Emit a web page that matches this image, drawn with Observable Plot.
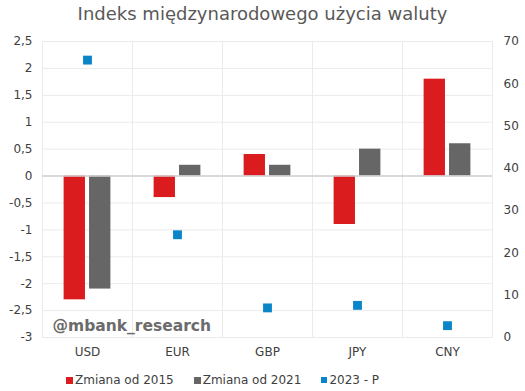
<!DOCTYPE html>
<html>
<head>
<meta charset="utf-8">
<script src="https://cdn.jsdelivr.net/npm/d3@7"></script>
<script src="https://cdn.jsdelivr.net/npm/@observablehq/plot@0.6"></script>
<style>
  body { margin: 0; background: #fff; font-family: "DejaVu Sans", Verdana, sans-serif; }
  #wrap { position: relative; width: 525px; height: 391px; }
  #title { height: 30px; line-height: 28px; text-align: center; font-size: 18px; color: #595959; }
  #legend { position: absolute; left: 66px; top: 373px; display: flex; font-size: 12px; color: #404040; white-space: nowrap; }
  .item { display: flex; align-items: center; margin-right: 20px; }
  .sw { display: inline-block; width: 7px; height: 7px; margin-right: 2px; }
</style>
</head>
<body>
<div id="wrap">
  <div id="title">Indeks międzynarodowego użycia waluty</div>
  <div id="chart"></div>
  <div id="legend"></div>
</div>
<script>
const currencies = ["USD", "EUR", "GBP", "JPY", "CNY"];
const seriesNames = ["Zmiana od 2015", "Zmiana od 2021"];
const change2015 = [-2.3, -0.4, 0.4, -0.9, 1.8];
const change2021 = [-2.1, 0.2, 0.2, 0.5, 0.6];
const share2023 = [65.6, 24.3, 7.0, 7.6, 2.8];
const dotName = "2023 - P";
const leftTicks = [-3, -2.5, -2, -1.5, -1, -0.5, 0, 0.5, 1, 1.5, 2, 2.5];
const rightTicks = [0, 10, 20, 30, 40, 50, 60, 70];

const red = "#DA1C1F", gray = "#666666", blue = "#0A86C8";

const leftMin = -3, leftMax = 2.5, rightMin = 0, rightMax = 70;
const toLeft = v => leftMin + (v - rightMin) * (leftMax - leftMin) / (rightMax - rightMin);
const fromLeft = d => rightMin + (d - leftMin) * (rightMax - rightMin) / (leftMax - leftMin);

const bars = [];
currencies.forEach((c, i) => {
  bars.push({currency: c, series: seriesNames[0], value: change2015[i]});
  bars.push({currency: c, series: seriesNames[1], value: change2021[i]});
});
const dots = currencies.map((c, i) => ({currency: c, value: share2023[i]}));

const chart = Plot.plot({
  width: 525, height: 335,
  marginTop: 11, marginBottom: 28, marginLeft: 40, marginRight: 31,
  style: {fontFamily: "DejaVu Sans, Verdana, sans-serif", fontSize: "12px", color: "#404040", background: "#fff"},
  fx: {domain: currencies, padding: 0, label: null},
  x: {domain: seriesNames, paddingInner: 0.16, paddingOuter: 0.85, round: false, axis: null},
  y: {domain: [leftMin, leftMax], label: null},
  color: {domain: seriesNames, range: [red, gray]},
  marks: [
    Plot.gridY({ticks: leftTicks, stroke: "#ebebeb", strokeOpacity: 1}),
    Plot.frame({stroke: "#ebebeb"}),
    Plot.barY(bars, {fx: "currency", x: "series", y: "value", fill: "series", inset: 0}),
    Plot.ruleY([0], {stroke: "#d0d0d0", strokeWidth: 1.5}),
    Plot.dot(dots, {fx: "currency", y: d => toLeft(d.value), symbol: "square", fill: blue, r: 5}),
    Plot.text(["@mbank_research"], {fx: () => "USD", frameAnchor: "bottom-left", dx: 10, dy: -7, lineAnchor: "bottom", fontWeight: "bold", fontSize: 15.5, fill: "#6b6b6b"}),
    Plot.axisY({ticks: leftTicks, tickFormat: d => String(d).replace(".", ","), tickSize: 0, tickPadding: 10, label: null}),
    Plot.axisY({anchor: "right", ticks: rightTicks.map(toLeft), tickFormat: d => String(Math.round(fromLeft(d))), tickSize: 0, tickPadding: 11, label: null}),
    Plot.axisFx({anchor: "bottom", tickSize: 0, tickPadding: 10, label: null})
  ]
});
document.getElementById("chart").appendChild(chart);

const legendItems = [
  {name: seriesNames[0], color: red, size: 7},
  {name: seriesNames[1], color: gray, size: 7},
  {name: dotName, color: blue, size: 6}
];
const legend = document.getElementById("legend");
legendItems.forEach(it => {
  const d = document.createElement("div");
  d.className = "item";
  const s = document.createElement("span");
  s.className = "sw";
  s.style.background = it.color;
  s.style.width = it.size + "px";
  s.style.height = it.size + "px";
  d.appendChild(s);
  d.appendChild(document.createTextNode(it.name));
  legend.appendChild(d);
});
</script>
</body>
</html>
